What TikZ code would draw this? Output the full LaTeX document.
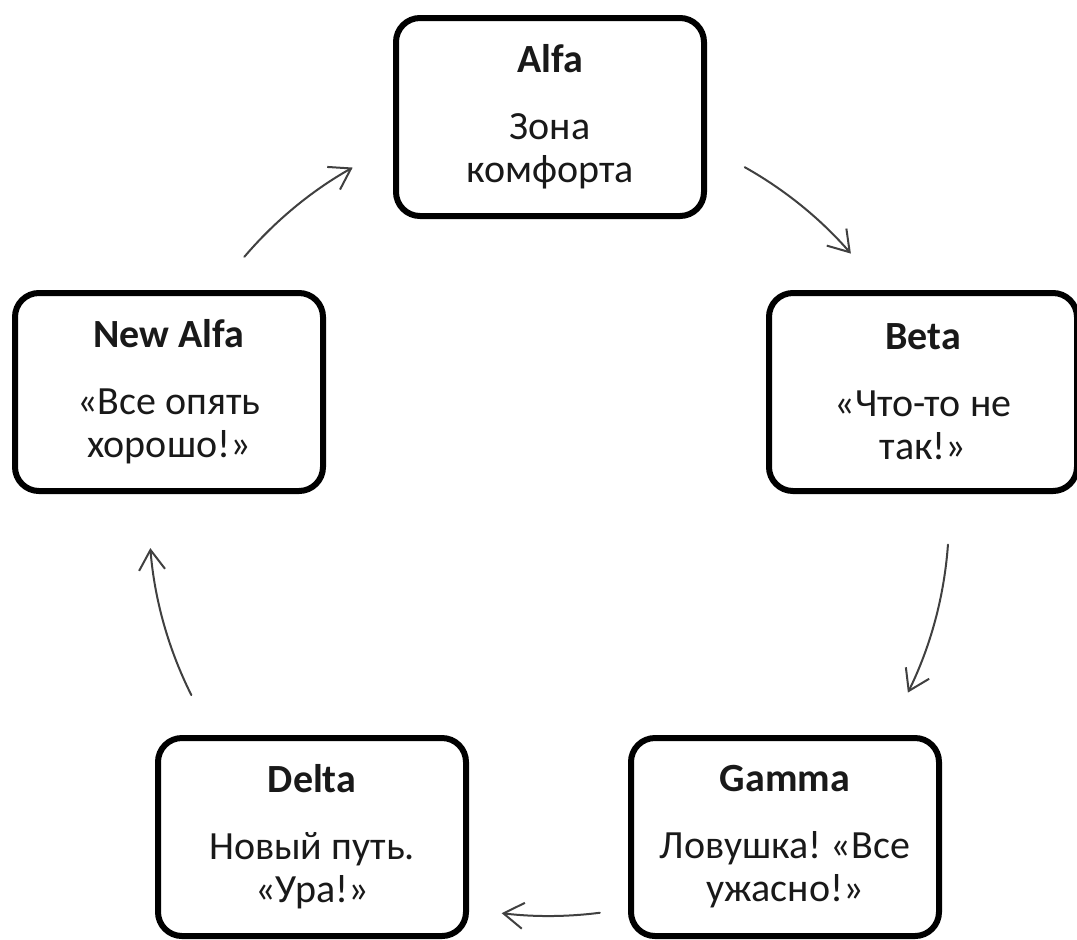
\documentclass[tikz,border=0pt]{standalone}
\usepackage{fontspec}
\setmainfont{Carlito}
\frenchspacing
\usetikzlibrary{arrows.meta}
\tikzset{>={Straight Barb[length=10pt, width=13pt]}}
\tikzset{stage/.style={draw, line width=3pt, rounded corners=12pt,
  minimum width=154pt, minimum height=99pt, inner sep=0pt,
  align=center, text=black!90, font=\fontsize{20}{21.5}\selectfont}}
\tikzset{cyc/.style={->, line width=1pt, draw=black!75, line cap=round}}

\begin{document}
\begin{tikzpicture}[x=.5pt, y=.5pt]
    \useasboundingbox(0, 0)rectangle(1077, -939);
    \coordinate(hub)at(549, -516);
    \node[stage](alfa)at(550, -117){\textbf{Alfa}\\[12pt]Зона\\комфорта};
    \node[stage](beta)at(923, -392){\textbf{Beta}\\[12pt]«Что-то не\\так!»};
    \node[stage](gamma)at(785, -837){\textbf{Gamma}\\[12pt]Ловушка! «Все\\ужасно!»};
    \node[stage](delta)at(312, -837){\textbf{Delta}\\[12pt]Новый путь.\\«Ура!»};
    \node[stage](newalfa)at(169, -392){\textbf{New Alfa}\\[12pt]«Все опять\\хорошо!»};
    % arrows round the cycle
    \draw[cyc]([shift={(60.7:400)}]hub)arc[start angle=60.7, end angle=41, radius=400];
    \draw[cyc]([shift={(-4.1:400)}]hub)arc[start angle=-4.1, end angle=-26.2, radius=400];
    \draw[cyc]([shift={(-82.7:400)}]hub)arc[start angle=-82.7, end angle=-96.8, radius=400];
    \draw[cyc]([shift={(-153.4:400)}]hub)arc[start angle=-153.4, end angle=-175.4, radius=400];
    \draw[cyc]([shift={(139.6:400)}]hub)arc[start angle=139.6, end angle=119.4, radius=400];
\end{tikzpicture}
\end{document}
